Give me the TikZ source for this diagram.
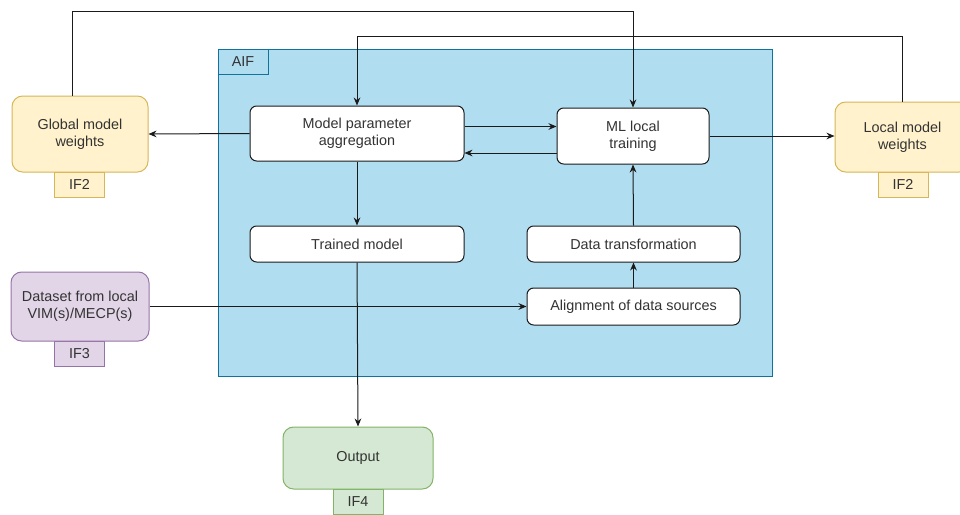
\documentclass[tikz,border=0pt]{standalone}
\usepackage{fontspec}
\setmainfont{Liberation Sans}
\usetikzlibrary{arrows.meta,calc}
\definecolor{txt}{HTML}{333333}
\definecolor{ln}{HTML}{1A1A1A}
\definecolor{aiffill}{HTML}{B1DDF0}
\definecolor{aifdraw}{HTML}{10739E}
\definecolor{yfill}{HTML}{FFF2CC}
\definecolor{ydraw}{HTML}{D6B656}
\definecolor{pfill}{HTML}{E1D5E7}
\definecolor{pdraw}{HTML}{9673A6}
\definecolor{gfill}{HTML}{D5E8D4}
\definecolor{gdraw}{HTML}{82B366}
\tikzset{
  every node/.style={font=\fontsize{10.8}{12.8}\selectfont, text=txt, align=center, inner sep=0pt},
  proc/.style={draw=ln, fill=white, rounded corners=5pt, line width=0.75pt},
  ext/.style={rounded corners=8pt, line width=0.75pt},
  tab/.style={draw, line width=0.75pt},
  conn/.style={draw=ln, line width=0.75pt, -{Stealth[length=6pt,width=5pt]}},
}
\begin{document}
\begin{tikzpicture}[x=0.75pt,y=-0.75pt]
\useasboundingbox (0,0) rectangle (960,514);
\begin{scope}
\clip (0,0) rectangle (960,514);
% AIF container
\node[draw=aifdraw, fill=aiffill, line width=0.75pt, minimum width=415.5pt, minimum height=245.25pt] (aif) at (495,212.5) {};
\node[draw=aifdraw, line width=0.75pt, minimum width=37.5pt, minimum height=18.75pt] (aiflbl) at (243,61.5) {AIF};
% inner processes
\node[proc, minimum width=160.5pt, minimum height=41.25pt] (mpa) at (357,133.5) {Model parameter\\aggregation};
\node[proc, minimum width=114pt, minimum height=42pt] (ml) at (633,136) {ML local\\training};
\node[proc, minimum width=160.5pt, minimum height=27pt] (tm) at (357,244) {Trained model};
\node[proc, minimum width=159.75pt, minimum height=27pt] (dt) at (633.5,244) {Data transformation};
\node[proc, minimum width=159.75pt, minimum height=27.75pt] (al) at (633.5,306.5) {Alignment of data sources};
% external boxes with tabs
\node[tab, draw=ydraw, fill=yfill, minimum width=37.5pt, minimum height=18.75pt] (gif) at (79.5,184.5) {IF2};
\node[ext, draw=ydraw, fill=yfill, minimum width=102pt, minimum height=57pt] (gw) at (80,134) {Global model\\weights};
\node[tab, draw=ydraw, fill=yfill, minimum width=37.5pt, minimum height=18.75pt] (lif) at (903,184.5) {IF2};
\node[ext, draw=ydraw, fill=yfill, minimum width=101.25pt, minimum height=52.5pt] (lw) at (902.5,137) {Local model\\weights};
\node[tab, draw=pdraw, fill=pfill, minimum width=37.5pt, minimum height=18.75pt] (dif) at (79.5,353.5) {IF3};
\node[ext, draw=pdraw, fill=pfill, minimum width=103.5pt, minimum height=51.75pt] (ds) at (80,306.5) {Dataset from local\\VIM(s)/MECP(s)};
\node[tab, draw=gdraw, fill=gfill, minimum width=37.5pt, minimum height=18.75pt] (oif) at (358,501.5) {IF4};
\node[ext, draw=gdraw, fill=gfill, minimum width=112.5pt, minimum height=46.5pt] (out) at (358,458) {Output};
% connectors
\coordinate (gtop) at ($(gw.north)+(-6pt,0)$);
\coordinate (mpaA) at ($(mpa.east)+(0,5.25pt)$);
\coordinate (mlB) at ($(ml.west)+(0,-12.75pt)$);
\draw[conn] (gtop) -- ++(0,-84) -| (ml.north);
\draw[conn] (lw.north) -- ++(0,-65) -| (mpa.north);
\draw[conn] (mpa.west) -- (gw.east);
\draw[conn] (mpaA) -- (ml.west |- mpaA);
\draw[conn] (mlB) -- (mpa.east |- mlB);
\draw[conn] (ml.east) -- (lw.west |- ml.east);
\draw[conn] (mpa.south) -- (tm.north);
\draw[conn] (tm.south) -- (out.north);
\draw[conn] (ds.east) -- (al.west);
\draw[conn] (al.north) -- (dt.south);
\draw[conn] (dt.north) -- (ml.south);
\end{scope}
\end{tikzpicture}
\end{document}
